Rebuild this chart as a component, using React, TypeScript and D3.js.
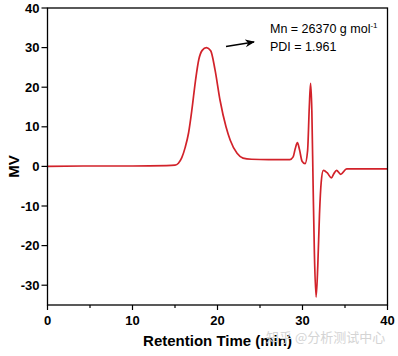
import React from "react";
import * as d3 from "d3";

const times = [0, 5, 10, 14, 15.0, 15.4, 15.8, 16.2, 16.6, 17.0, 17.4, 17.8, 18.2, 18.7, 19.2, 19.7, 20.3, 21.0, 21.5, 22.3, 23.0, 24.0, 26.0, 28.5, 28.9, 29.15, 29.4, 29.65, 29.95, 30.3, 30.6, 30.8, 30.95, 31.1, 31.25, 31.4, 31.6, 31.8, 32.0, 32.2, 32.45, 32.9, 33.4, 33.7, 34.0, 34.5, 35.2, 37, 40];
const signal = [0, 0.1, 0.1, 0.2, 0.3, 0.8, 2.2, 4.8, 8.5, 14.5, 21.5, 27.0, 29.3, 30.0, 29.2, 24.5, 16.7, 10.0, 6.6, 3.3, 2.1, 1.8, 1.7, 1.7, 2.4, 4.5, 6.0, 4.2, 1.3, 0.7, 4.0, 15.0, 21.0, 14.0, -5.0, -22.0, -33.0, -25.0, -12.0, -4.0, -1.0, -1.6, -2.9, -1.8, -1.0, -2.0, -0.6, -0.6, -0.6];
const xTicks = [0, 10, 20, 30, 40];
const xMinorTicks = [5, 15, 25, 35];
const yTicks = [-30, -20, -10, 0, 10, 20, 30, 40];
const annotation = ["Mn = 26370 g mol", "PDI = 1.961"];

export default function App() {
  const W = 398, H = 356;
  const left = 47.5, right = 387.5, top = 8, bottom = 305;
  const x = d3.scaleLinear().domain([0, 40]).range([left, right]);
  const y = d3.scaleLinear().domain([-35, 40]).range([bottom, top]);
  const pts = times.map((t, i) => [t, signal[i]] as [number, number]);
  const line = d3.line<[number, number]>().x(d => x(d[0])).y(d => y(d[1])).curve(d3.curveMonotoneX);
  const font = "Arial, 'Liberation Sans', sans-serif";
  return (
    <svg width={W} height={H} style={{ position: "absolute", left: 0, top: 0, background: "#fff" }} fontFamily={font}>
      <defs>
        <marker id="ah" viewBox="0 0 10 10" refX="1" refY="5" markerWidth="7" markerHeight="7" orient="auto">
          <path d="M10,1 L0,5 L10,9 L7,5 Z" fill="#000" />
        </marker>
      </defs>
      <rect x={0} y={0} width={W} height={H} fill="#fff" />
      <path d={line(pts) || ""} fill="none" stroke="#d2222a" strokeWidth={1.7} strokeLinejoin="round" />
      <rect x={left} y={top} width={right - left} height={bottom - top} fill="none" stroke="#000" strokeWidth={1.3} />
      {xTicks.map(t => (
        <g key={"x" + t}>
          <line x1={x(t)} x2={x(t)} y1={bottom} y2={bottom + 5} stroke="#000" strokeWidth={1.2} />
          <text x={x(t)} y={bottom + 20} textAnchor="middle" fontSize={13} fontWeight="bold">{t}</text>
        </g>
      ))}
      {xMinorTicks.map(t => (
        <line key={"m" + t} x1={x(t)} x2={x(t)} y1={bottom} y2={bottom + 3} stroke="#000" strokeWidth={1.2} />
      ))}
      {yTicks.map(t => (
        <g key={"y" + t}>
          <line x1={left - 6} x2={left} y1={y(t)} y2={y(t)} stroke="#000" strokeWidth={1.2} />
          <text x={left - 8} y={y(t) + 4.5} textAnchor="end" fontSize={13} fontWeight="bold">{t}</text>
        </g>
      ))}
      <text transform={`translate(19,${y(0)}) rotate(-90)`} textAnchor="middle" fontSize={15} fontWeight="bold">MV</text>
      <text x={(left + right) / 2} y={346} textAnchor="middle" fontSize={15} fontWeight="bold">Retention Time (min)</text>
      <text x={270} y={33} fontSize={12.5}>{annotation[0]}<tspan dy={-5} fontSize={8}>-1</tspan></text>
      <text x={270} y={51} fontSize={12.5}>{annotation[1]}</text>
      <line x1={254} y1={42} x2={226} y2={46.5} stroke="#000" strokeWidth={1.4} markerStart="url(#ah)" />
      <text x={266} y={342} fontSize={13} fill="#d4d4d4" fontFamily="'Noto Sans CJK SC', sans-serif">知乎 @分析测试中心</text>
    </svg>
  );
}
